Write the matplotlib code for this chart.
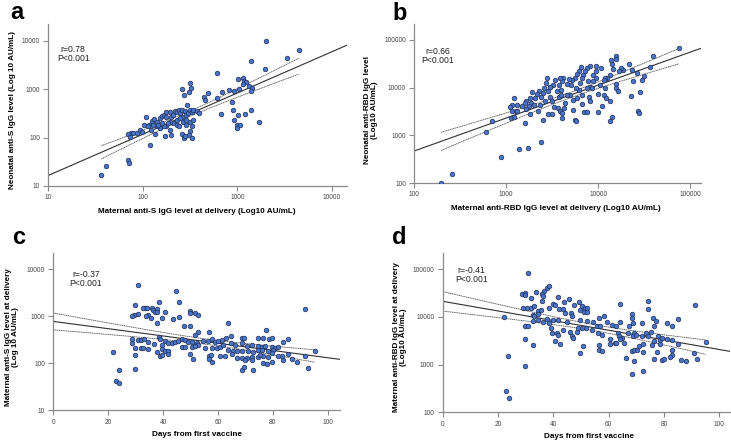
import numpy as np
import matplotlib
matplotlib.use("Agg")
import matplotlib.pyplot as plt
from matplotlib.ticker import FixedLocator, NullLocator

plt.rcParams['font.family'] = ['Liberation Sans', 'DejaVu Sans']

# ---------------- data (log10 AU/mL unless days) ----------------
# Panel a: maternal anti-S (x) vs neonatal anti-S (y), log10 values
a_mat_log = [3.30, 3.65, 3.53, 3.14, 3.29, 2.78, 3.01, 3.06, 3.07, 3.09, 3.06, 3.12, 3.16, 3.15, 3.02,
             2.97, 2.91, 2.84, 2.79, 2.69, 2.65, 2.66, 2.94, 2.95, 3.01, 3.08, 3.14, 2.83, 2.96, 3.00,
             3.03, 3.00, 3.23, 2.50, 2.41, 2.49, 2.51, 2.44, 2.47,
             2.03, 2.07, 2.01, 1.97, 2.10, 2.12, 2.15, 2.18, 2.20, 2.22, 2.25, 2.25, 2.29, 2.30, 2.32,
             2.34, 2.36, 2.38, 2.39, 2.41, 2.43, 2.45, 2.46, 2.48, 2.50, 2.52, 2.53, 2.57, 2.59, 2.36,
             2.39, 2.43, 2.46, 2.50, 2.53, 2.46, 2.52, 2.50, 2.49, 2.52, 2.44, 2.41, 2.45, 2.30, 2.23,
             2.29, 2.25, 2.22, 2.18, 2.15, 2.11, 2.09, 2.06, 2.13, 2.08, 1.88, 1.90, 1.84, 1.86, 1.99,
             1.94, 2.32, 2.36, 2.38, 2.29, 2.27, 2.20, 2.16,
             1.84, 1.85, 1.61, 1.56]
a_neo_log = [3.99, 3.80, 3.64, 3.59, 3.41, 3.34, 3.22, 3.24, 3.17, 3.14, 3.11, 3.07, 3.03, 2.96, 3.00,
             2.96, 2.98, 2.95, 2.81, 2.93, 2.83, 2.78, 2.74, 2.56, 2.47, 2.49, 2.56, 2.49, 2.36, 2.27,
             2.27, 2.19, 2.32, 3.12, 3.00, 2.94, 3.03, 2.87, 2.67,
             2.42, 2.27, 2.25, 2.16, 2.35, 2.38, 2.32, 2.40, 2.45, 2.47, 2.53, 2.42, 2.52, 2.42, 2.47,
             2.54, 2.52, 2.56, 2.50, 2.57, 2.43, 2.54, 2.47, 2.50, 2.56, 2.52, 2.57, 2.54, 2.50, 2.36,
             2.40, 2.33, 2.36, 2.33, 2.36, 2.26, 2.24, 2.14, 2.06, 1.99, 2.00, 2.08, 2.03, 2.05, 2.03,
             2.16, 2.23, 2.23, 2.19, 2.23, 2.26, 2.16, 2.23, 2.07, 1.85, 2.10, 2.10, 2.07, 2.02, 2.12,
             2.09, 2.30, 2.26, 2.23, 2.33, 2.30, 2.30, 2.27,
             1.53, 1.47, 1.41, 1.23]

# Panel b: maternal anti-RBD (x) vs neonatal anti-RBD (y), log10 values
b_mat_log = [4.88, 4.60, 4.56, 4.50, 4.48, 4.46, 4.43, 4.44, 4.36, 4.38, 4.42, 4.37, 4.34, 4.27, 4.25,
             4.23, 4.20, 4.20, 4.14, 4.15, 4.16, 4.13, 4.10, 4.08, 4.06, 4.03, 3.98, 3.98, 3.95, 3.91,
             3.88, 3.86, 3.84, 3.83, 3.81, 3.79, 3.77, 3.75, 3.72, 3.71, 3.68, 3.66, 3.62, 3.61, 3.59,
             3.57, 3.53, 3.51, 3.48, 3.43, 3.41, 3.40, 3.38, 3.36, 3.33, 3.31, 3.28, 3.26, 3.27, 3.25,
             3.22, 3.20, 3.22, 3.17, 3.12, 3.09, 3.06, 3.04, 3.06, 3.05, 3.08, 3.11, 3.12, 3.21, 3.26,
             3.35, 3.40, 3.45, 3.50, 3.52, 3.56, 3.59, 3.61, 3.61, 3.63, 3.73, 3.75, 3.76, 3.83, 3.85,
             3.88, 3.90, 3.91, 4.00, 4.00, 4.04, 4.06, 4.09, 4.13, 4.15, 4.13, 4.19, 4.20, 4.22, 3.91,
             3.88, 3.79, 3.76, 3.73, 3.69, 3.66, 3.60, 3.57, 3.48, 3.46, 3.50, 3.42, 3.37, 3.30, 3.98,
             4.02, 4.07, 3.95, 3.82, 3.77, 3.44, 3.48, 3.55, 3.60, 3.64, 3.80, 3.89, 3.93,
             2.85, 2.78, 2.94, 3.14, 3.24, 3.38, 2.41, 2.29]
b_neo_log = [4.84, 4.66, 4.43, 4.24, 4.17, 3.90, 3.51, 3.47, 3.83, 4.13, 4.30, 4.37, 4.50, 4.38, 4.42,
             4.35, 4.67, 4.60, 4.58, 4.50, 4.39, 4.27, 4.21, 4.20, 4.16, 4.41, 4.46, 4.34, 4.27, 4.45,
             4.41, 4.34, 4.27, 4.20, 4.43, 4.35, 4.28, 4.21, 4.16, 4.06, 4.18, 4.07, 4.21, 4.13, 4.20,
             4.06, 4.16, 4.06, 4.01, 4.09, 3.99, 3.88, 3.81, 3.92, 3.86, 3.78, 3.90, 3.79, 3.67, 3.61,
             3.71, 3.67, 3.55, 3.62, 3.64, 3.79, 3.64, 3.60, 3.50, 3.36, 3.39, 3.50, 3.51, 3.25, 3.44,
             3.50, 3.32, 3.44, 3.44, 3.60, 3.58, 3.51, 3.46, 3.36, 3.57, 3.53, 3.32, 3.29, 3.65, 3.48,
             3.48, 3.81, 3.72, 3.86, 3.48, 3.61, 3.85, 3.79, 3.71, 3.39, 3.30, 4.07, 4.00, 3.93, 4.02,
             3.99, 3.95, 3.99, 3.74, 3.85, 3.85, 3.95, 3.81, 3.81, 3.93, 3.71, 3.71, 3.64, 3.64, 4.20,
             4.06, 3.99, 4.13, 3.85, 3.78, 4.20, 4.02, 3.92, 3.85, 3.67, 4.09, 4.13, 3.99,
             3.30, 3.07, 2.54, 2.71, 2.74, 2.85, 2.18, 2.01]

# Panel c: days from first vaccine (x) vs maternal anti-S (y, log10)
c_days = [30.7, 44.7, 45.8, 38.6, 29.9, 33.4, 32.8, 34.1, 35.8, 37.7, 36.5, 37.1, 37.9, 40.7, 34.4,
          33.7, 30.7, 29.5, 28.8, 35.7, 39.7, 43.6, 45.8, 49.8, 49.9, 51.6, 52.9, 37.7, 47.8, 49.8,
          63.8, 56.7, 52.6, 51.6, 91.6, 77.6, 64.6, 68.6, 69.6, 74.7, 76.5, 78.7, 79.6, 85.6, 83.8,
          38.6, 38.9, 28.8, 28.8, 31.0, 32.0, 33.2, 34.6, 36.8, 39.7, 40.7, 41.9, 43.1, 44.4, 45.6,
          46.8, 48.0, 49.2, 50.7, 52.2, 52.9, 54.7, 56.5, 57.7, 58.9, 60.1, 61.6, 62.8, 64.6, 66.2,
          68.6, 70.5, 72.3, 74.7, 75.9, 77.2, 79.6, 80.8, 82.0, 29.8, 32.0, 32.8, 34.6, 39.5, 40.7,
          41.9, 46.8, 48.0, 50.4, 51.6, 55.3, 57.7, 59.5, 60.8, 62.0, 63.8, 65.6, 66.8, 68.6, 71.1,
          72.9, 74.7, 75.9, 78.4, 80.2, 21.9, 29.8, 37.7, 38.9, 39.7, 41.7, 49.8, 56.7, 57.5, 60.8,
          62.6, 65.0, 66.8, 68.6, 70.5, 72.3, 74.7, 76.5, 79.6, 82.0, 83.2, 85.6, 91.7, 50.8, 56.7,
          57.7, 69.9, 72.3, 75.3, 78.1, 79.6, 76.5, 77.8, 83.8, 86.9, 88.7, 95.4, 92.7, 68.6, 69.6,
          72.7, 29.8, 23.8, 22.8, 23.8]
c_mat_s_log = [3.65, 3.54, 3.31, 3.31, 3.24, 3.17, 3.17, 3.17, 3.17, 3.15, 3.13, 3.09, 3.09, 3.09, 3.02,
               3.01, 3.04, 3.02, 3.01, 2.97, 2.95, 2.93, 2.98, 3.11, 3.06, 3.07, 3.02, 2.85, 2.80, 2.80,
               2.86, 2.66, 2.67, 2.60, 3.15, 2.71, 2.58, 2.54, 2.54, 2.53, 2.53, 2.51, 2.53, 2.51, 2.46,
               2.56, 2.51, 2.51, 2.42, 2.49, 2.49, 2.51, 2.46, 2.40, 2.39, 2.47, 2.42, 2.42, 2.46, 2.47,
               2.51, 2.49, 2.46, 2.46, 2.42, 2.39, 2.47, 2.47, 2.51, 2.46, 2.47, 2.49, 2.53, 2.42, 2.39,
               2.42, 2.37, 2.39, 2.37, 2.35, 2.37, 2.35, 2.33, 2.35, 2.32, 2.33, 2.32, 2.30, 2.30, 2.26,
               2.26, 2.35, 2.35, 2.35, 2.37, 2.33, 2.33, 2.32, 2.35, 2.39, 2.28, 2.26, 2.25, 2.26, 2.25,
               2.23, 2.28, 2.28, 2.26, 2.28, 2.23, 2.17, 2.23, 2.15, 2.17, 2.19, 2.20, 2.16, 2.17, 2.16,
               2.16, 2.19, 2.10, 2.12, 2.12, 2.14, 2.13, 2.16, 2.21, 2.16, 2.15, 2.20, 2.16, 2.09, 2.09,
               2.02, 2.07, 2.07, 2.17, 2.14, 2.02, 2.00, 1.98, 2.07, 2.09, 2.02, 2.25, 1.89, 1.86, 1.91,
               1.85, 1.87, 1.86, 1.62, 1.57]

# Panel d: days from first vaccine (x) vs maternal anti-RBD (y, log10)
d_days = [30.7, 28.8, 29.8, 29.8, 33.7, 36.7, 37.6, 38.6, 35.8, 36.4, 31.8, 41.7, 35.8, 45.5, 44.0,
          49.4, 39.8, 38.6, 40.6, 42.2, 43.6, 44.3, 46.3, 47.5, 49.6, 50.2, 51.4, 52.3, 51.1, 52.3,
          28.9, 30.6, 31.8, 33.0, 34.3, 35.7, 32.5, 33.1, 34.3, 22.0, 32.8, 34.6, 36.4, 37.6, 38.6,
          39.8, 41.8, 44.8, 46.6, 49.6, 52.3, 54.5, 56.4, 58.3, 59.5, 55.7, 56.9, 61.1, 62.7, 64.3,
          64.3, 67.5, 68.4, 68.6, 68.9, 69.3, 72.2, 74.3, 74.2, 76.2, 77.1, 76.4, 81.0, 83.0, 85.1,
          91.1, 29.8, 30.7, 39.3, 39.4, 41.2, 41.7, 43.6, 46.0, 48.8, 48.4, 50.5, 51.8, 53.9, 56.3,
          57.5, 60.5, 62.3, 63.4, 63.7, 64.7, 65.5, 67.1, 68.9, 69.9, 71.9, 73.7, 74.3, 75.2, 76.4,
          78.0, 78.6, 79.3, 81.0, 82.9, 85.2, 29.8, 32.8, 40.6, 42.4, 46.6, 47.2, 50.6, 56.5, 56.6,
          57.5, 60.4, 62.7, 64.3, 68.3, 69.2, 70.1, 71.1, 72.5, 72.3, 75.6, 77.4, 78.6, 83.0, 82.9,
          76.3, 79.3, 80.1, 82.2, 86.0, 88.0, 91.0, 92.1, 95.1, 66.3, 69.2, 68.3, 72.3, 49.6, 29.8,
          23.7, 22.9, 23.9]
d_mat_rbd_log = [4.93, 4.47, 4.50, 4.45, 4.52, 4.545, 4.60, 4.64, 4.47, 4.43, 4.40, 4.41, 4.34, 4.38, 4.31,
                 4.31, 4.27, 4.195, 4.24, 4.16, 4.16, 4.08, 4.08, 4.24, 4.15, 4.22, 4.195, 4.18, 4.11, 4.11,
                 4.18, 4.18, 4.18, 4.22, 4.125, 4.15, 4.04, 4.01, 4.055, 3.99, 3.915, 3.94, 3.89, 3.96, 3.87,
                 3.94, 3.94, 3.90, 4.01, 3.94, 3.915, 3.90, 3.97, 4.01, 3.90, 3.80, 3.80, 3.83, 3.81, 3.90,
                 4.265, 3.81, 4.055, 3.985, 3.87, 3.66, 3.87, 4.335, 4.17, 3.985, 3.915, 3.80, 3.87, 3.80, 3.95,
                 4.24, 3.80, 3.80, 3.76, 3.66, 3.66, 3.62, 3.73, 3.69, 3.76, 3.69, 3.76, 3.76, 3.73, 3.66,
                 3.62, 3.54, 3.45, 3.66, 3.59, 3.565, 3.45, 3.66, 3.59, 3.62, 3.59, 3.66, 3.59, 3.69, 3.50,
                 3.61, 3.52, 3.565, 3.54, 3.52, 3.43, 3.53, 3.41, 3.495, 3.43, 3.61, 3.55, 3.39, 3.41, 3.31,
                 3.29, 3.43, 3.46, 3.54, 3.29, 3.30, 3.31, 3.38, 3.43, 3.27, 3.41, 3.27, 3.43, 3.31, 3.20,
                 3.11, 3.10, 3.11, 3.15, 3.10, 3.08, 3.24, 3.12, 3.47, 3.13, 3.08, 2.81, 2.87, 3.24, 2.97,
                 3.18, 2.44, 2.31]

stats_text = ["r=0.78\nP<0.001", "r=0.66\nP<0.001", "r=-0.37\nP<0.001", "r=-0.41\nP<0.001"]
panel_letters = ["a", "b", "c", "d"]
x_labels = ["Maternal anti-S IgG level at delivery (Log10 AU/mL)",
            "Maternal anti-RBD IgG level at delivery (Log10 AU/mL)",
            "Days from first vaccine", "Days from first vaccine"]
y_labels = ["Neonatal anti-S IgG level (Log 10 AU/mL)",
            "Neonatal anti-RBD IgG level\n(Log10 AU/mL)",
            "Maternal anti-S IgG level at delivery\n(Log 10 AU/mL)",
            "Maternal anti-RBD IgG level at delivery\n(Log10 AU/mL)"]

# ---------------- style ----------------
W, H = 731, 441
fig = plt.figure(figsize=(W / 100, H / 100), dpi=100)
MARK_FACE = "#4a74c9"
MARK_EDGE = "#1f2f55"
SPINE = "#8a8a8a"
LINE_C = "#303030"
CI_C = "#555555"
LABEL_FS = 5.9
TICK_FS = 4.7
STAT_FS = 6.2


def box(l, r, t, b):
    return [l / W, 1 - b / H, (r - l) / W, (b - t) / H]


def style(ax):
    for s in ["top", "right"]:
        ax.spines[s].set_visible(False)
    for s in ["left", "bottom"]:
        ax.spines[s].set_color(SPINE)
        ax.spines[s].set_linewidth(0.9)
    ax.tick_params(axis="both", which="major", direction="out", length=3.5, width=0.8,
                   color=SPINE, labelsize=TICK_FS, labelcolor="#444444", pad=2.5)
    ax.tick_params(axis="both", which="minor", length=0)


def fit_and_ci(xv, yv, grid_full, grid_ci):
    xv = np.asarray(xv, float)
    yv = np.asarray(yv, float)
    n = len(xv)
    slope, icpt = np.polyfit(xv, yv, 1)
    resid = yv - (slope * xv + icpt)
    s = np.sqrt(np.sum(resid ** 2) / (n - 2))
    xm = xv.mean()
    sxx = np.sum((xv - xm) ** 2)
    t = 1.97
    yfull = slope * grid_full + icpt
    yci = slope * grid_ci + icpt
    se = s * np.sqrt(1.0 / n + (grid_ci - xm) ** 2 / sxx)
    return yfull, yci - t * se, yci + t * se


def draw_fit(ax, gf, gc, yf, lo, hi, logx):
    fx = (lambda v: 10 ** v) if logx else (lambda v: v)
    ax.plot(fx(gf), 10 ** yf, color=LINE_C, lw=0.8, zorder=2)
    ax.plot(fx(gc), 10 ** lo, color=CI_C, lw=0.6, ls=(0, (1.6, 0.6)), zorder=2)
    ax.plot(fx(gc), 10 ** hi, color=CI_C, lw=0.6, ls=(0, (1.6, 0.6)), zorder=2)


def scatter_panel(ax, x, y):
    ax.scatter(x, y, s=11, c=MARK_FACE, edgecolors=MARK_EDGE, linewidths=0.5, zorder=3)


def set_log_ticks(ax, xt, yt, xlog):
    if xlog:
        ax.set_xscale("log")
        ax.xaxis.set_major_locator(FixedLocator(xt))
        ax.xaxis.set_minor_locator(NullLocator())
        ax.set_xticklabels([str(int(v)) for v in xt])
    else:
        ax.set_xticks(xt)
        ax.set_xticklabels([str(int(v)) for v in xt])
    ax.set_yscale("log")
    ax.yaxis.set_major_locator(FixedLocator(yt))
    ax.yaxis.set_minor_locator(NullLocator())
    ax.set_yticklabels([str(int(v)) for v in yt])


def stat(ax, x, y, s):
    ax.text(x, y, s, transform=ax.transAxes, ha="center", va="center",
            fontsize=STAT_FS, color="#222222", linespacing=1.0)


def ftext(px, py, s, rot=0, fs=LABEL_FS, **kw):
    fig.text(px / W, 1 - py / H, s, fontsize=fs, fontweight="bold", rotation=rot,
             ha="center", va="center", linespacing=0.95, **kw)


# ---------------- panel a ----------------
ax = fig.add_axes(box(48.3, 347, 24, 186))
style(ax)
xa = np.array(a_mat_log); ya = np.array(a_neo_log)
set_log_ticks(ax, [10, 100, 1000, 10000], [10, 100, 1000, 10000], True)
ax.set_xlim(10, 10 ** 4.161)
ax.set_ylim(10, 10 ** 4.347)
gf = np.linspace(1, 4.161, 50)
gc = np.linspace(xa.min(), xa.max(), 50)
draw_fit(ax, gf, gc, *fit_and_ci(xa, ya, gf, gc), True)
scatter_panel(ax, 10 ** xa, 10 ** ya)
stat(ax, 0.083, 0.815, stats_text[0])

# ---------------- panel b ----------------
ax = fig.add_axes(box(414.3, 701, 24, 183))
style(ax)
xb = np.array(b_mat_log); yb = np.array(b_neo_log)
set_log_ticks(ax, [100, 1000, 10000, 100000], [100, 1000, 10000, 100000], True)
ax.set_xlim(100, 10 ** 5.12)
ax.set_ylim(100, 10 ** 5.335)
gf = np.linspace(2, 5.12, 50)
gc = np.linspace(xb.min(), xb.max(), 50)
draw_fit(ax, gf, gc, *fit_and_ci(xb, yb, gf, gc), True)
scatter_panel(ax, 10 ** xb, 10 ** yb)
stat(ax, 0.082, 0.80, stats_text[1])

# ---------------- panel c ----------------
ax = fig.add_axes(box(53.3, 340, 253, 410.3))
style(ax)
xc = np.array(c_days); yc = np.array(c_mat_s_log)
set_log_ticks(ax, [0, 20, 40, 60, 80, 100], [10, 100, 1000, 10000], False)
ax.set_xlim(0, 104.5)
ax.set_ylim(10, 10 ** 4.34)
gf = np.linspace(0, 104.5, 50)
gc = np.linspace(0, xc.max(), 50)
draw_fit(ax, gf, gc, *fit_and_ci(xc, yc, gf, gc), False)
scatter_panel(ax, xc, 10 ** yc)
stat(ax, 0.114, 0.835, stats_text[2])

# ---------------- panel d ----------------
ax = fig.add_axes(box(442.7, 730, 253, 412.3))
style(ax)
xd = np.array(d_days); yd = np.array(d_mat_rbd_log)
set_log_ticks(ax, [0, 20, 40, 60, 80, 100], [100, 1000, 10000, 100000], False)
ax.set_xlim(0, 103.9)
ax.set_ylim(100, 10 ** 5.34)
gf = np.linspace(0, 103.9, 50)
gc = np.linspace(0, xd.max(), 50)
draw_fit(ax, gf, gc, *fit_and_ci(xd, yd, gf, gc), False)
scatter_panel(ax, xd, 10 ** yd)
stat(ax, 0.101, 0.86, stats_text[3])

# ---------------- axis labels ----------------
ftext(197, 212, x_labels[0])
ftext(556, 209, x_labels[1])
ftext(197, 435, x_labels[2])
ftext(589, 436, x_labels[3])
ftext(13, 110, y_labels[0], rot=90)
ftext(371, 110, y_labels[1], rot=90)
ftext(12, 337, y_labels[2], rot=90)
ftext(400, 337, y_labels[3], rot=90)

# panel letters
for letter, (px, py) in zip(panel_letters, [(10, 19), (392, 20), (12, 244), (392, 244)]):
    fig.text(px / W, 1 - py / H, letter, fontsize=17, fontweight="bold", ha="left", va="baseline")

fig.savefig("out.png", dpi=100)
